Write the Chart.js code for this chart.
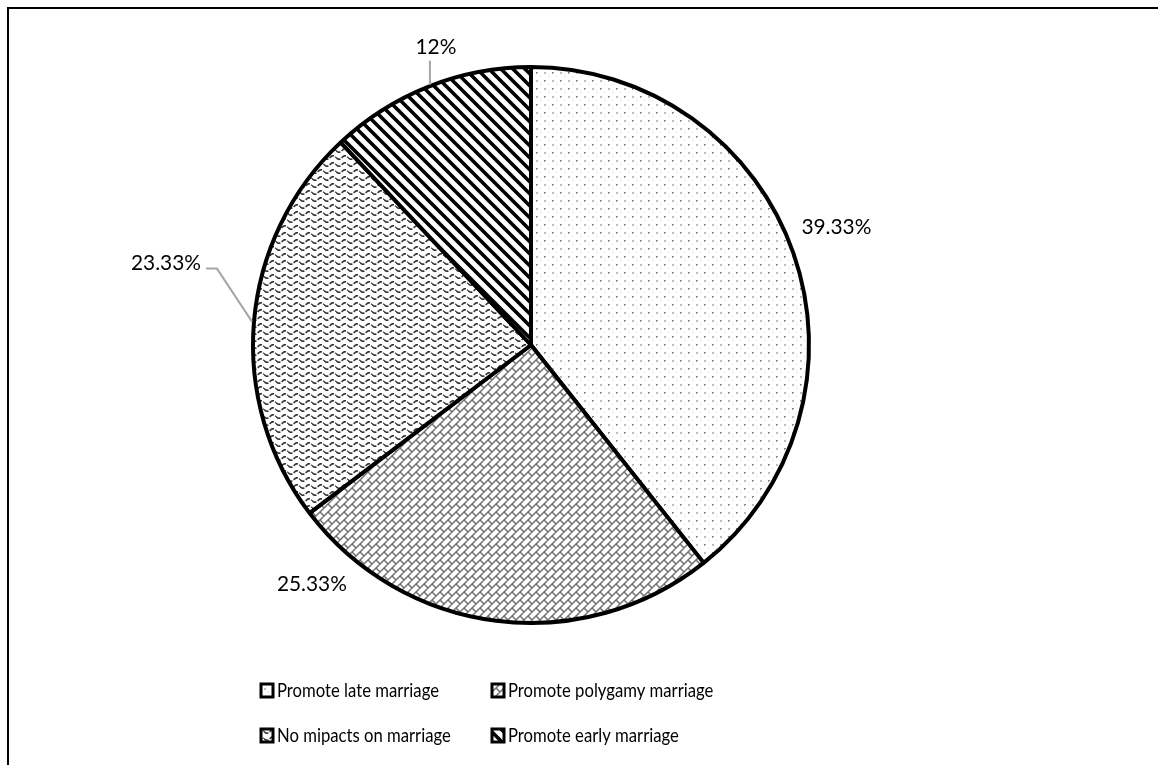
<!DOCTYPE html>
<html>
<head>
<meta charset="utf-8">
<script src="https://cdn.jsdelivr.net/npm/chart.js"></script>
<style>
  html, body { margin: 0; padding: 0; background: #fff; }
  #wrap { position: relative; width: 1158px; height: 765px; overflow: hidden; }
  #frame { position: absolute; left: 7px; top: 7px; width: 1200px; height: 800px;
           border-top: 2px solid #000; border-left: 2px solid #000; }
  canvas { position: absolute; left: 0; top: 0; }
</style>
</head>
<body>
<div id="wrap">
  <div id="frame"></div>
  <canvas id="pie" width="1158" height="765"></canvas>
</div>
<script>
// data
const categories = ['Promote late marriage', 'Promote polygamy marriage', 'No mipacts on marriage', 'Promote early marriage'];
const shares = [39.33, 25.33, 23.33, 12];
const shareLabels = ['39.33%', '25.33%', '23.33%', '12%'];

const FAMILY = 'Lato, "Open Sans", sans-serif';

// the original font is narrow and tall; squeeze a normal font sideways to match
const squeeze = (sample, size, width) => {
  const g = document.createElement('canvas').getContext('2d');
  g.font = size + 'px ' + FAMILY;
  return width / g.measureText(sample).width;
};
const legendFont = { font: '20px ' + FAMILY, sx: squeeze('Promote late marriage', 20, 162) };
const labelFont = { font: '21px ' + FAMILY, sx: squeeze('39.33%', 21, 70) };

const drawText = (ctx, f, text, x, y, align) => {
  ctx.save();
  ctx.translate(x, y);
  ctx.scale(f.sx, 1);
  ctx.font = f.font;
  ctx.textAlign = align;
  ctx.textBaseline = 'middle';
  ctx.fillStyle = '#000';
  ctx.fillText(text, 0, 0);
  ctx.restore();
};

// fill patterns (greyscale hatches like the office chart)
const tile = (w, h, draw) => {
  const c = document.createElement('canvas');
  c.width = w; c.height = h;
  const g = c.getContext('2d');
  g.fillStyle = '#fff';
  g.fillRect(0, 0, w, h);
  draw(g, w, h);
  return g.createPattern(c, 'repeat');
};

const dotted = tile(16, 16, (g) => {
  g.fillStyle = '#8a8a8a';
  g.fillRect(0, 0, 2, 1); g.fillRect(0, 0, 1, 2);
  g.fillRect(8, 8, 2, 1); g.fillRect(8, 8, 1, 2);
  g.fillStyle = '#bdbdbd';
  g.fillRect(8, 0, 2, 2); g.fillRect(0, 8, 2, 2);
  g.fillStyle = '#d8d8d8';
  g.fillRect(4, 4, 1, 1); g.fillRect(12, 12, 1, 1); g.fillRect(12, 4, 1, 1); g.fillRect(4, 12, 1, 1);
});

const brick = tile(8, 8, (g) => {
  g.strokeStyle = '#707070';
  g.lineWidth = 1.5;
  g.beginPath();
  g.moveTo(-1, 9); g.lineTo(9, -1);
  g.moveTo(-1, 1); g.lineTo(1, -1);
  g.moveTo(7, 9); g.lineTo(9, 7);
  g.moveTo(0, 0); g.lineTo(4, 4);
  g.stroke();
});

const wavy = tile(12, 7, (g) => {
  g.strokeStyle = '#333';
  g.lineWidth = 1.6;
  g.setLineDash([5, 1.5]);
  g.beginPath();
  for (let x = 0; x <= 12; x += 0.5) {
    const y = 3.5 + 1.7 * Math.sin(x / 12 * Math.PI * 2);
    x === 0 ? g.moveTo(x, y) : g.lineTo(x, y);
  }
  g.stroke();
});

const stripes = tile(12, 12, (g) => {
  g.strokeStyle = '#000';
  g.lineWidth = 3.6;
  g.beginPath();
  g.moveTo(-2, -2); g.lineTo(14, 14);
  g.moveTo(-14, -2); g.lineTo(2, 14);
  g.moveTo(10, -2); g.lineTo(26, 14);
  g.stroke();
});

const fills = [dotted, brick, wavy, stripes];

// label placement relative to the slice's mid point on the rim
const labelOffsets = [
  { dx: 41, dy: -26, align: 'center' },
  { dx: -184, dy: -39, align: 'center' },
  { dx: -51, dy: -58, align: 'right', leader: 'elbow' },
  { dx: 8, dy: -37, align: 'center', leader: 'up' }
];

const sliceLabels = {
  id: 'sliceLabels',
  afterDatasetsDraw(chart) {
    const ctx = chart.ctx;
    const arcs = chart.getDatasetMeta(0).data;
    arcs.forEach((arc, i) => {
      const mid = (arc.startAngle + arc.endAngle) / 2;
      const r = arc.outerRadius + 2;
      const px = arc.x + Math.cos(mid) * r;
      const py = arc.y + Math.sin(mid) * r;
      const o = labelOffsets[i];
      const lx = px + o.dx, ly = py + o.dy;
      drawText(ctx, labelFont, shareLabels[i], lx, ly, o.align);
      if (o.leader) {
        ctx.save();
        ctx.strokeStyle = '#a6a6a6';
        ctx.lineWidth = 2;
        ctx.beginPath();
        if (o.leader === 'up') {
          ctx.moveTo(lx - 6, ly + 13);
          ctx.lineTo(lx - 6, py);
        } else {
          ctx.moveTo(lx + 5, ly + 5);
          ctx.lineTo(lx + 16, ly + 5);
          ctx.lineTo(px, py);
        }
        ctx.stroke();
        ctx.restore();
      }
    });
  }
};

const boxLegend = {
  id: 'boxLegend',
  afterDraw(chart) {
    const ctx = chart.ctx;
    const cols = [261, 492];
    const rows = [684, 729];
    chart.data.labels.forEach((lab, i) => {
      const x = cols[i % 2], y = rows[Math.floor(i / 2)];
      ctx.save();
      ctx.fillStyle = chart.data.datasets[0].backgroundColor[i];
      ctx.fillRect(x, y, 12, 13);
      ctx.strokeStyle = '#000';
      ctx.lineWidth = 3;
      ctx.strokeRect(x, y, 12, 13);
      ctx.restore();
      drawText(ctx, legendFont, lab, x + 16, y + 7, 'left');
    });
  }
};

new Chart(document.getElementById('pie'), {
  type: 'pie',
  data: {
    labels: categories,
    datasets: [{
      data: shares,
      backgroundColor: fills,
      borderColor: '#000',
      borderWidth: 4,
      hoverBorderWidth: 4,
      hoverOffset: 0
    }]
  },
  options: {
    responsive: false,
    animation: false,
    events: [],
    layout: { padding: { top: 65, bottom: 140, left: 251, right: 347 } },
    plugins: {
      legend: { display: false },
      tooltip: { enabled: false }
    }
  },
  plugins: [sliceLabels, boxLegend]
});
</script>
</body>
</html>
